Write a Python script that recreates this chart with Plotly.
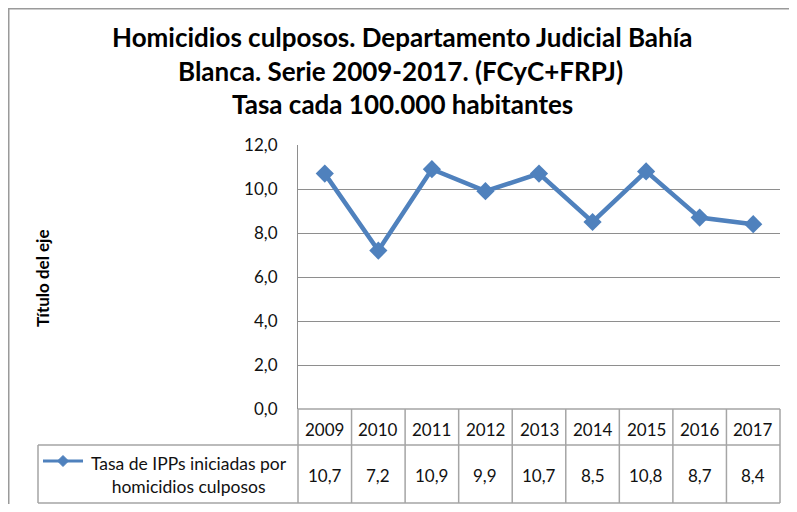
import plotly.graph_objects as go

# data
years = ["2009", "2010", "2011", "2012", "2013", "2014", "2015", "2016", "2017"]
tasa = [10.7, 7.2, 10.9, 9.9, 10.7, 8.5, 10.8, 8.7, 8.4]
serie_nombre = "Tasa de IPPs iniciadas por<br>homicidios culposos"
titulo = [
    "Homicidios culposos. Departamento Judicial Bahía",
    "Blanca. Serie 2009-2017. (FCyC+FRPJ)",
    "Tasa cada 100.000 habitantes",
]
y_ticks = [0, 2, 4, 6, 8, 10, 12]

# the page body adds an 8px margin all round; keep the figure inside it
OFF = 8
W, H = 797 - 2 * OFF, 512 - 2 * OFF
L, R, T, B = 298 - OFF, 9, 145 - OFF, 95
PW, PH = W - L - R, H - T - B
BLUE = "#4F81BD"
GRID = "#8E8E8E"
TABLE = "#A5A5A5"
TXT = "#111111"
FONT = "Lato, 'Open Sans', sans-serif"


def px(x):
    # reference-window pixel -> paper x
    return (x - OFF - L) / PW


def py(y):
    # reference-window pixel -> paper y
    return (H - B - (y - OFF)) / PH


def fmt(v):
    return f"{v:.1f}".replace(".", ",")


fig = go.Figure()
fig.add_trace(go.Scatter(
    x=list(range(len(years))), y=tasa, mode="lines+markers", name="tasa",
    line=dict(color=BLUE, width=4.5),
    marker=dict(symbol="diamond", size=14, color=BLUE),
    showlegend=False,
))

line_tab = dict(color=TABLE, width=1.5)
frame = dict(color="#9A9A9A", width=1.5)
shapes = []
# outer chart frame (only the left and top edges are inside the window)
shapes.append(dict(type="line", xref="paper", yref="paper",
                   x0=px(OFF + 0.75), x1=px(OFF + 0.75), y0=py(OFF), y1=py(H + OFF),
                   line=frame))
shapes.append(dict(type="line", xref="paper", yref="paper",
                   x0=px(OFF), x1=px(W + OFF), y0=py(OFF + 0.75), y1=py(OFF + 0.75),
                   line=frame))
# data table lines
n = len(years)
y_head_top, y_head_bot, y_tab_bot = py(409), py(445), py(503)
for i in range(n + 1):
    shapes.append(dict(type="line", xref="paper", yref="paper",
                       x0=i / n, x1=i / n, y0=y_head_top, y1=y_tab_bot,
                       line=line_tab))
shapes.append(dict(type="line", xref="paper", yref="paper",
                   x0=0, x1=1, y0=y_head_top, y1=y_head_top, line=line_tab))
for yy in (y_head_bot, y_tab_bot):
    shapes.append(dict(type="line", xref="paper", yref="paper",
                       x0=px(38), x1=1, y0=yy, y1=yy, line=line_tab))
shapes.append(dict(type="line", xref="paper", yref="paper",
                   x0=px(38), x1=px(38), y0=y_head_bot, y1=y_tab_bot,
                   line=line_tab))
# legend key inside the table
shapes.append(dict(type="line", xref="paper", yref="paper",
                   x0=px(43), x1=px(83), y0=py(461), y1=py(461),
                   line=dict(color=BLUE, width=3)))
cx, cy, d = 63, 461, 5.5
shapes.append(dict(type="path", xref="paper", yref="paper",
                   path=(f"M {px(cx)},{py(cy - d)} L {px(cx + d)},{py(cy)} "
                         f"L {px(cx)},{py(cy + d)} L {px(cx - d)},{py(cy)} Z"),
                   fillcolor=BLUE, line=dict(color=BLUE, width=1)))

annotations = []
for line, xc, yc in zip(titulo, (402, 400, 402), (37, 71, 104)):
    annotations.append(dict(text=f"<b>{line}</b>", xref="paper", yref="paper",
                            x=px(xc), y=py(yc), showarrow=False,
                            xanchor="center", yanchor="middle",
                            font=dict(size=26, color="#000", family=FONT)))
annotations.append(dict(text="<b>Título del eje</b>", xref="paper", yref="paper",
                        x=px(42), y=py(278), textangle=-90, showarrow=False,
                        xanchor="center", yanchor="middle",
                        font=dict(size=17, color="#000", family=FONT)))
for i, (yr, v) in enumerate(zip(years, tasa)):
    annotations.append(dict(text=yr, xref="x", yref="paper", x=i, y=py(429),
                            showarrow=False, xanchor="center", yanchor="middle",
                            font=dict(size=17, color=TXT, family=FONT)))
    annotations.append(dict(text=fmt(v), xref="x", yref="paper", x=i, y=py(475),
                            showarrow=False, xanchor="center", yanchor="middle",
                            font=dict(size=17, color=TXT, family=FONT)))
annotations.append(dict(text=serie_nombre, xref="paper", yref="paper",
                        x=px(189), y=py(475), showarrow=False, align="center",
                        xanchor="center", yanchor="middle",
                        font=dict(size=17.5, color=TXT, family=FONT)))

fig.update_layout(
    width=W, height=H,
    margin=dict(l=L, r=R, t=T, b=B),
    paper_bgcolor="white", plot_bgcolor="white",
    separators=",.",
    xaxis=dict(range=[-0.5, n - 0.5], showticklabels=False,
               showgrid=False, zeroline=False, ticks=""),
    yaxis=dict(range=[0, 12], tickvals=y_ticks, tickformat=".1f",
               showgrid=True, gridcolor=GRID, gridwidth=1.2,
               zeroline=False, showline=True, linecolor=GRID, linewidth=1.2,
               ticks="", ticklabelstandoff=16,
               tickfont=dict(size=17, color=TXT, family=FONT)),
    shapes=shapes, annotations=annotations,
    font=dict(family=FONT),
)

fig.write_html("out.html")
